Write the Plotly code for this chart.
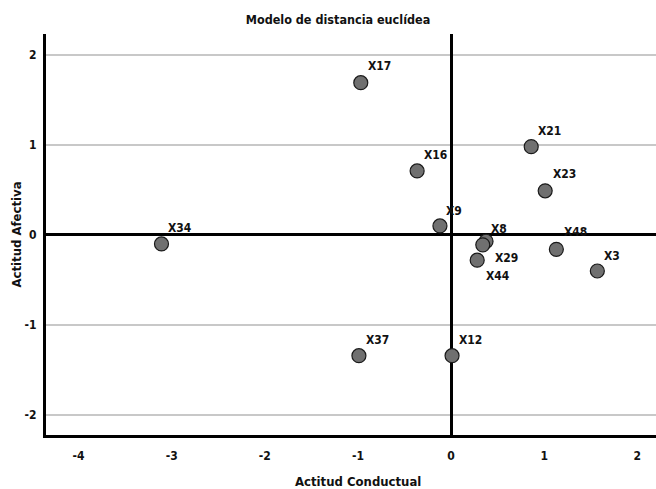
import plotly.graph_objects as go

labels = ["X17", "X16", "X21", "X23", "X9", "X8", "X29", "X44", "X48", "X3", "X34", "X37", "X12"]
x_vals = [-0.97, -0.365, 0.86, 1.01, -0.12, 0.375, 0.34, 0.28, 1.13, 1.57, -3.11, -0.99, 0.01]
y_vals = [1.69, 0.71, 0.98, 0.49, 0.10, -0.07, -0.11, -0.28, -0.16, -0.40, -0.10, -1.34, -1.34]
label_dx = [5, 5, 5, 6, 4, 3, 10, 7, 6, 5, 5, 5, 5]
label_dy = [17, 16, 16, 17, 15, 12, -13, -16, 17, 15, 16, 16, 16]

x_ticks = [-4, -3, -2, -1, 0, 1, 2]
y_ticks = [-2, -1, 0, 1, 2]

FONT = "DejaVu Sans Condensed, Liberation Sans Narrow, Arial Narrow, sans-serif"

fig = go.Figure()
fig.add_trace(go.Scatter(
    x=x_vals, y=y_vals, mode="markers",
    marker=dict(size=14, color="#707070", line=dict(color="#1a1a1a", width=1.2)),
    hoverinfo="text", text=labels, showlegend=False,
))

for lab, xv, yv, dx, dy in zip(labels, x_vals, y_vals, label_dx, label_dy):
    fig.add_annotation(x=xv, y=yv, text="<b>%s</b>" % lab, showarrow=False,
                       xanchor="left", yanchor="middle", xshift=dx, yshift=dy,
                       font=dict(family=FONT, size=12, color="#111111"))

# axis titles as paper annotations
fig.add_annotation(x=0.5, y=-(482 - 435) / (489 - 34 - 54), xref="paper", yref="paper",
                   xshift=(358 - 351), text="<b>Actitud Conductual</b>", showarrow=False,
                   xanchor="center", yanchor="middle",
                   font=dict(family=FONT, size=13, color="#111111"))
fig.add_annotation(x=-(46 - 16) / 610, y=0.5, xref="paper", yref="paper",
                   text="<b>Actitud Afectiva</b>", showarrow=False, textangle=-90,
                   xanchor="center", yanchor="middle",
                   font=dict(family=FONT, size=13, color="#111111"))

fig.update_layout(
    width=656, height=489,
    margin=dict(l=46, r=0, t=34, b=54),
    paper_bgcolor="white", plot_bgcolor="white",
    title=dict(text="<b>Modelo de distancia euclídea</b>", x=338 / 656, xanchor="center",
               y=1 - 20 / 489, yanchor="middle", xref="container",
               font=dict(family=FONT, size=12.5, color="#111111")),
    font=dict(family=FONT, size=12, color="#111111"),
    xaxis=dict(range=[-4.35, 2.2], tickvals=x_ticks, automargin=False,
               ticktext=["<b>%d</b>" % t for t in x_ticks],
               showgrid=False, zeroline=True, zerolinecolor="black", zerolinewidth=3,
               showline=True, linecolor="black", linewidth=3, ticks="",
               ticklabelstandoff=8),
    yaxis=dict(range=[-2.22, 2.23], tickvals=y_ticks, automargin=False,
               ticktext=["<b>%d</b>" % t for t in y_ticks],
               showgrid=True, gridcolor="#c8c8c8", gridwidth=1.5,
               zeroline=True, zerolinecolor="black", zerolinewidth=3,
               showline=True, linecolor="black", linewidth=3, ticks="",
               ticklabelstandoff=4),
)

fig.write_html("out.html", config={"displayModeBar": False},
               post_script="document.body.style.margin='0';")
